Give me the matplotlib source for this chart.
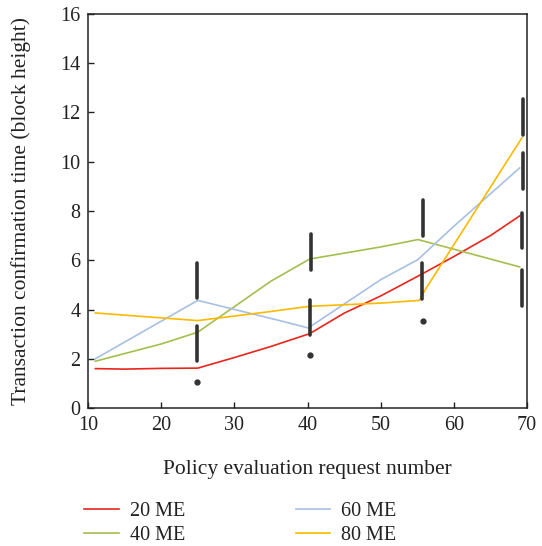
import matplotlib
matplotlib.use("Agg")
import matplotlib.pyplot as plt

plt.rcParams["font.family"] = ["Liberation Serif", "DejaVu Serif"]

# series (x = policy evaluation request number)
x_red = [11, 15, 20, 25, 30, 35, 40.3, 45, 50, 55.7, 60, 65, 69]
y_red = [1.60, 1.58, 1.61, 1.62, 2.05, 2.50, 3.02, 3.85, 4.55, 5.45, 6.15, 7.00, 7.80]

x_green = [11, 20, 25, 35, 40.3, 50, 55.1, 69]
y_green = [1.90, 2.60, 3.08, 5.15, 6.05, 6.54, 6.84, 5.73]

x_blue = [11, 25, 36.6, 40.1, 50, 55.1, 60, 69]
y_blue = [2.00, 4.37, 3.52, 3.25, 5.21, 6.03, 7.38, 9.75]

x_yellow = [11, 25, 35, 40.3, 50, 55.3, 56.1, 69.3]
y_yellow = [3.86, 3.55, 3.92, 4.13, 4.26, 4.37, 4.81, 10.97]

# thick vertical bars (lo, hi) and outlier dots
bar_x = [24.9, 24.9, 40.5, 40.3, 55.8, 55.7, 69.4, 69.4, 69.3, 69.3]
bar_lo = [4.47, 1.92, 5.62, 2.95, 6.98, 4.43, 11.10, 8.91, 6.48, 4.16]
bar_hi = [5.89, 3.35, 7.07, 4.40, 8.43, 5.87, 12.53, 10.34, 7.92, 5.60]
dot_x = [24.85, 40.3, 55.8]
dot_y = [1.06, 2.14, 3.52]

fig = plt.figure(figsize=(5.42, 5.46), dpi=100)
ax = fig.add_axes([0.1624, 0.2527, 0.8099, 0.7217])

l1, = ax.plot(x_red, y_red, color="#E8261C", lw=1.2, label="20 ME")
l2, = ax.plot(x_green, y_green, color="#A5BE4E", lw=1.2, label="40 ME")
l3, = ax.plot(x_blue, y_blue, color="#A7C0E2", lw=1.2, label="60 ME")
l4, = ax.plot(x_yellow, y_yellow, color="#FBBA00", lw=1.2, label="80 ME")

ax.vlines(bar_x, bar_lo, bar_hi, color="#333333", lw=2.6, capstyle="round")
ax.plot(dot_x, dot_y, "o", color="#333333", ms=3.5, ls="none")

ax.set_xlim(10, 70)
ax.set_ylim(0, 16)
ax.set_xticks(range(10, 71, 10))
ax.set_yticks(range(0, 17, 2))
ax.tick_params(direction="in", length=4.5, width=1, pad=5.5, labelsize=14.5, colors="#222222")
for s in ax.spines.values():
    s.set_linewidth(1.1)
    s.set_color("#222222")

ax.set_xlabel("Policy evaluation request number", fontsize=15.5, labelpad=18, color="#222222")
ax.set_ylabel("Transaction confirmation time (block height)", fontsize=15.5, labelpad=21,
              color="#222222")

fig.legend(handles=[l1, l2, l3, l4], loc="upper left", bbox_to_anchor=(0.141, 0.096),
           ncol=2, frameon=False, fontsize=14.5, handlelength=1.7, handletextpad=0.55,
           columnspacing=5.5, labelspacing=0.25, borderaxespad=0, labelcolor="#222222")

fig.savefig("out.png", dpi=100)
